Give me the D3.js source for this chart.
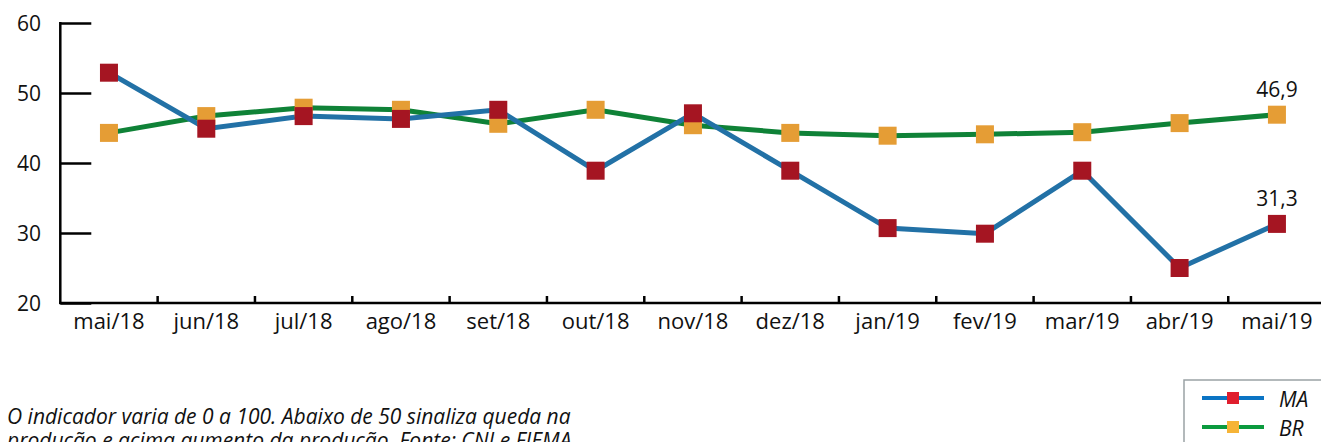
<!DOCTYPE html>
<html>
<head>
<meta charset="utf-8">
<script src="https://cdn.jsdelivr.net/npm/d3@7"></script>
<style>
  body { margin: 0; background: #fff; }
  svg { display: block; font-family: "Open Sans", sans-serif; }
</style>
</head>
<body>
<svg id="chart" width="1321" height="442"></svg>
<script>
// DATA
var months = ["mai/18", "jun/18", "jul/18", "ago/18", "set/18", "out/18", "nov/18",
  "dez/18", "jan/19", "fev/19", "mar/19", "abr/19", "mai/19"];
var ma_values = [52.9, 44.9, 46.7, 46.3, 47.6, 38.9, 47.1, 38.9, 30.7, 29.9, 38.9, 25.0, 31.3];
var br_values = [44.3, 46.7, 47.9, 47.6, 45.6, 47.6, 45.4, 44.3, 43.9, 44.1, 44.4, 45.7, 46.9];
var y_ticks = [20, 30, 40, 50, 60];
var series_names = ["MA", "BR"];

var svg = d3.select("#chart");

// layout
var x_left = 60.3, x_right = 1325.6;
var y_top = 23, y_bottom = 303;

var xScale = d3.scaleBand().domain(months).range([x_left, x_right]);
var yScale = d3.scaleLinear().domain([20, 60]).range([y_bottom, y_top]);

var colors = {
  MA: { line: "#2271a6", mark: "#a51522", legLine: "#0b74c4", legMark: "#e01e2e" },
  BR: { line: "#0f8237", mark: "#e59d35", legLine: "#0b9a3e", legMark: "#f6b437" }
};

// Y axis: ticks pointing inward
var yAxis = svg.append("g").attr("transform", "translate(" + x_left + ",0)")
  .call(d3.axisRight(yScale).tickValues(y_ticks).tickSize(31).tickFormat(""));
yAxis.select(".domain").remove();
yAxis.selectAll("line").attr("stroke", "#000").attr("stroke-width", 2.5);

svg.append("line")
  .attr("x1", x_left).attr("x2", x_left)
  .attr("y1", y_top - 1).attr("y2", y_bottom + 1)
  .attr("stroke", "#000").attr("stroke-width", 2.5);

svg.selectAll("text.ylab")
  .data(y_ticks)
  .enter().append("text")
  .attr("class", "ylab")
  .attr("x", 41)
  .attr("y", d => yScale(d) + 8)
  .attr("text-anchor", "end")
  .style("font-size", "21px")
  .attr("fill", "#111")
  .text(d => d);

// X axis
svg.append("line")
  .attr("x1", x_left - 1).attr("x2", 1321)
  .attr("y1", y_bottom).attr("y2", y_bottom)
  .attr("stroke", "#000").attr("stroke-width", 2.5);

svg.selectAll("line.xtick")
  .data(months.slice(1))
  .enter().append("line")
  .attr("class", "xtick")
  .attr("x1", d => xScale(d)).attr("x2", d => xScale(d))
  .attr("y1", y_bottom).attr("y2", y_bottom - 7)
  .attr("stroke", "#000").attr("stroke-width", 2.5);

svg.selectAll("text.xlab")
  .data(months)
  .enter().append("text")
  .attr("class", "xlab")
  .attr("x", d => xScale(d) + xScale.bandwidth() / 2)
  .attr("y", 329)
  .attr("text-anchor", "middle")
  .style("font-size", "22px")
  .attr("fill", "#111")
  .text(d => d);

// LINES
var cx = d => xScale(d) + xScale.bandwidth() / 2;
var line = d3.line().x(d => cx(d.m)).y(d => yScale(d.v));

function seriesData(values) {
  return months.map((m, i) => ({ m: m, v: values[i] }));
}

var br_data = seriesData(br_values);
var ma_data = seriesData(ma_values);
var msize = 18;

// BR drawn first, MA on top
[["BR", br_data], ["MA", ma_data]].forEach(function (s) {
  var name = s[0], data = s[1];
  svg.append("path")
    .datum(data)
    .attr("d", line)
    .attr("fill", "none")
    .attr("stroke", colors[name].line)
    .attr("stroke-width", 5)
    .attr("stroke-linejoin", "miter");
});
[["BR", br_data], ["MA", ma_data]].forEach(function (s) {
  var name = s[0], data = s[1];
  svg.selectAll("rect.m" + name)
    .data(data)
    .enter().append("rect")
    .attr("class", "m" + name)
    .attr("x", d => cx(d.m) - msize / 2)
    .attr("y", d => yScale(d.v) - msize / 2)
    .attr("width", msize).attr("height", msize)
    .attr("fill", colors[name].mark);
});

// value labels on last point
[br_data[br_data.length - 1], ma_data[ma_data.length - 1]].forEach(function (d) {
  svg.append("text")
    .attr("x", cx(d.m))
    .attr("y", yScale(d.v) - 18)
    .attr("text-anchor", "middle")
    .style("font-size", "21px")
    .attr("fill", "#111")
    .text(String(d.v.toFixed(1)).replace(".", ","));
});

// LEGEND
svg.append("rect")
  .attr("x", 1184).attr("y", 380)
  .attr("width", 150).attr("height", 80)
  .attr("fill", "#fff")
  .attr("stroke", "#9aa3a5").attr("stroke-width", 1.5);

series_names.forEach(function (name, i) {
  var ly = 398 + i * 29;
  svg.append("line")
    .attr("x1", 1202).attr("x2", 1264)
    .attr("y1", ly).attr("y2", ly)
    .attr("stroke", colors[name].legLine).attr("stroke-width", 4);
  svg.append("rect")
    .attr("x", 1227).attr("y", ly - 6)
    .attr("width", 12).attr("height", 12)
    .attr("fill", colors[name].legMark);
  svg.append("text")
    .attr("x", 1279).attr("y", ly + 9)
    .style("font-size", "21px").style("font-style", "italic")
    .attr("fill", "#111")
    .text(name);
});

// FOOTNOTE
var note = ["O indicador varia de 0 a 100. Abaixo de 50 sinaliza queda na",
  "produção e acima aumento da produção. Fonte: CNI e FIEMA"];
svg.selectAll("text.note")
  .data(note)
  .enter().append("text")
  .attr("class", "note")
  .attr("x", 7)
  .attr("y", (d, i) => 424 + i * 24)
  .style("font-size", "21px").style("font-style", "italic")
  .attr("fill", "#111")
  .text(d => d);
</script>
</body>
</html>
